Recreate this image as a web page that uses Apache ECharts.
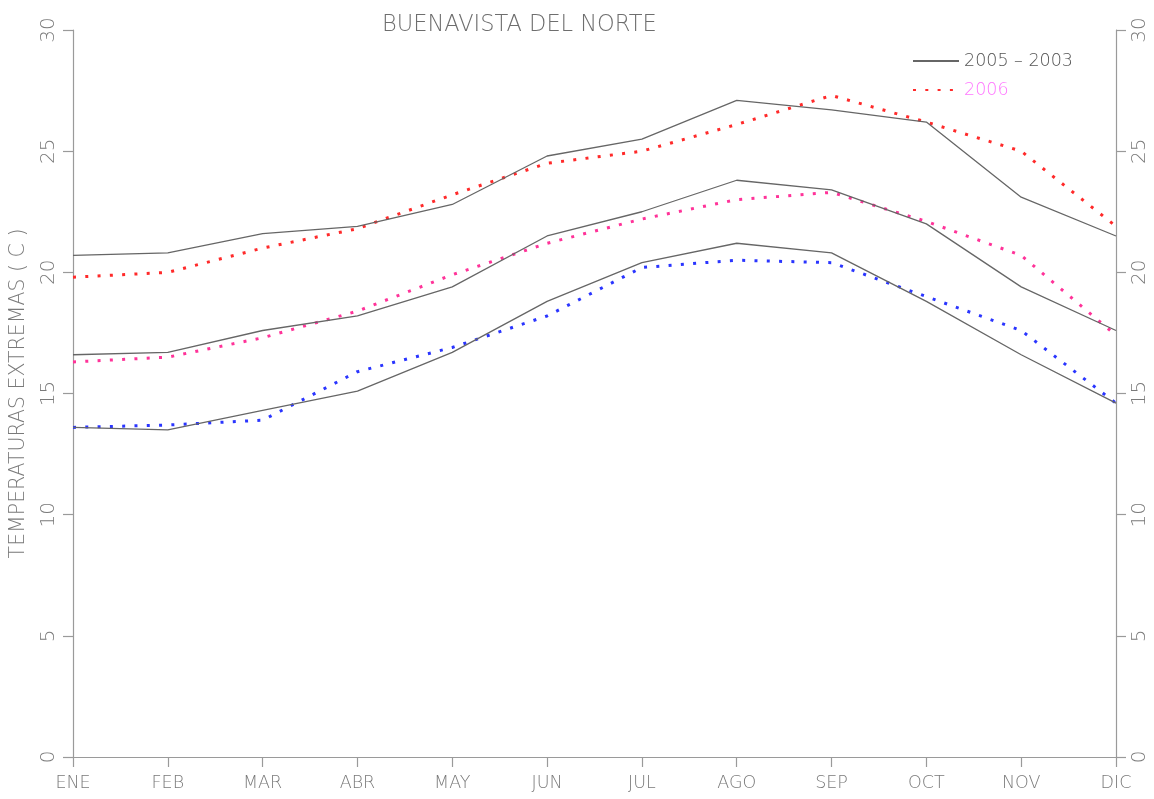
<!DOCTYPE html>
<html>
<head>
<meta charset="utf-8">
<script src="https://cdn.jsdelivr.net/npm/echarts@6/dist/echarts.min.js"></script>
<style>
  html, body { margin: 0; padding: 0; background: #ffffff; }
  #chart { width: 1154px; height: 799px; }
</style>
</head>
<body>
<div id="chart"></div>
<script>
// Months along the x axis
const months = ['ENE', 'FEB', 'MAR', 'ABR', 'MAY', 'JUN', 'JUL', 'AGO', 'SEP', 'OCT', 'NOV', 'DIC'];

// Reference period 2005 - 2003 (degrees C): maxima, means, minima
const maxRef  = [20.7, 20.8, 21.6, 21.9, 22.8, 24.8, 25.5, 27.1, 26.7, 26.2, 23.1, 21.5];
const meanRef = [16.6, 16.7, 17.6, 18.2, 19.4, 21.5, 22.5, 23.8, 23.4, 22.0, 19.4, 17.6];
const minRef  = [13.6, 13.5, 14.3, 15.1, 16.7, 18.8, 20.4, 21.2, 20.8, 18.8, 16.6, 14.6];

// Year 2006 (degrees C): maxima, means, minima
const max2006  = [19.8, 20.0, 21.0, 21.8, 23.2, 24.5, 25.0, 26.1, 27.3, 26.2, 25.0, 21.9];
const mean2006 = [16.3, 16.5, 17.3, 18.4, 19.9, 21.2, 22.2, 23.0, 23.3, 22.1, 20.7, 17.4];
const min2006  = [13.6, 13.7, 13.9, 15.9, 16.9, 18.2, 20.2, 20.5, 20.4, 19.0, 17.6, 14.6];

const refName = '2005 – 2003';
const yearName = '2006';

const FONT = '"DejaVu Sans", sans-serif';
const WEIGHT = 200;
const AXIS_GREY = '#9a9a9a';
const TEXT_GREY = '#7a7a7a';

function solid(data) {
  return {
    name: refName, type: 'line', data: data, yAxisIndex: 0,
    symbol: 'none', showSymbol: false, silent: true,
    itemStyle: { color: '#666666' },
    lineStyle: { color: '#666666', width: 1.3, type: 'solid' }
  };
}
function dotted(data, color) {
  return {
    name: yearName, type: 'line', data: data, yAxisIndex: 0,
    symbol: 'none', showSymbol: false, silent: true,
    itemStyle: { color: color },
    lineStyle: { color: color, width: 3, type: [3, 9.3] }
  };
}

function valueAxis(position) {
  return {
    type: 'value', position: position, min: 0, max: 30, interval: 5,
    splitLine: { show: false },
    axisLine: { show: true, lineStyle: { color: AXIS_GREY, width: 1.2 } },
    axisTick: { show: true, length: 10, lineStyle: { color: AXIS_GREY, width: 1.2 } },
    axisLabel: {
      rotate: 90, margin: 14, color: TEXT_GREY,
      fontFamily: FONT, fontWeight: WEIGHT, fontSize: 20
    }
  };
}

const chart = echarts.init(document.getElementById('chart'), null, { renderer: 'canvas' });

const leftAxis = valueAxis('left');
leftAxis.name = 'TEMPERATURAS EXTREMAS ( C )';
leftAxis.nameLocation = 'middle';
leftAxis.nameGap = 44;
leftAxis.nameTextStyle = { color: TEXT_GREY, fontFamily: FONT, fontWeight: WEIGHT, fontSize: 20.5 };

chart.setOption({
  backgroundColor: '#ffffff',
  animation: false,
  title: {
    text: 'BUENAVISTA DEL NORTE',
    left: 377, top: 9,
    textStyle: { color: '#6e6e6e', fontFamily: FONT, fontWeight: WEIGHT, fontSize: 22.5 }
  },
  legend: {
    orient: 'vertical', left: 907, top: 46,
    itemWidth: 46, itemHeight: 14, itemGap: 9,
    itemStyle: { opacity: 0 },
    lineStyle: { opacity: 1 },
    textStyle: { fontFamily: FONT, fontWeight: WEIGHT, fontSize: 17.5, lineHeight: 20 },
    data: [
      { name: refName, textStyle: { color: '#555555' } },
      { name: yearName, textStyle: { color: '#ff77ff' } }
    ]
  },
  grid: { left: 72, right: 38, top: 30, bottom: 42, containLabel: false },
  xAxis: {
    type: 'category', data: months, boundaryGap: false,
    axisLine: { show: true, onZero: false, lineStyle: { color: AXIS_GREY, width: 1.2 } },
    axisTick: { show: true, alignWithLabel: true, length: 10, lineStyle: { color: AXIS_GREY, width: 1.2 } },
    axisLabel: { margin: 17, color: TEXT_GREY, fontFamily: FONT, fontWeight: WEIGHT, fontSize: 17.5, interval: 0 },
    splitLine: { show: false }
  },
  yAxis: [leftAxis, valueAxis('right')],
  series: [
    dotted(max2006, '#ff2a2a'),
    dotted(mean2006, '#ff3399'),
    dotted(min2006, '#2a35ff'),
    solid(maxRef),
    solid(meanRef),
    solid(minRef)
  ]
});
</script>
</body>
</html>
